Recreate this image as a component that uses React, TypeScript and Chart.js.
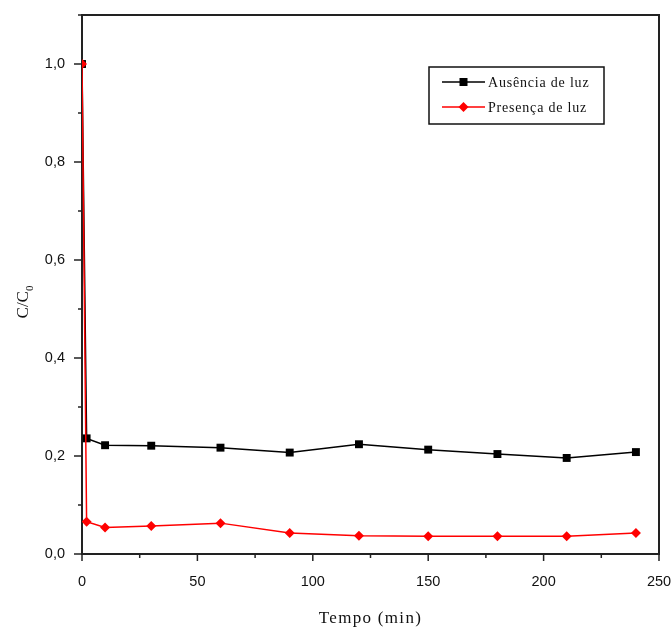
import React, { useEffect, useRef } from "react";
import { Chart, registerables } from "chart.js";

Chart.register(...registerables);

// ---- data ----
const tempoAusencia = [0, 2, 10, 30, 60, 90, 120, 150, 180, 210, 240];
const ausencia = [1.0, 0.236, 0.222, 0.221, 0.217, 0.207, 0.224, 0.213, 0.204, 0.196, 0.208];
const tempoPresenca = [0, 2, 10, 30, 60, 90, 120, 150, 180, 210, 240];
const presenca = [1.0, 0.066, 0.054, 0.057, 0.063, 0.043, 0.037, 0.036, 0.036, 0.036, 0.043];
const seriesNames = ["Ausência de luz", "Presença de luz"];
const xMajorTicks = [0, 50, 100, 150, 200, 250];
const yMajorTicks = [0, 0.2, 0.4, 0.6, 0.8, 1.0];
const xTitle = "Tempo (min)";
const yTitleMain = "C/C";
const yTitleSub = "0";

const AXIS_COLOR = "#222";
const SERIF = "'Liberation Serif', 'Times New Roman', serif";
const SANS = "'Liberation Sans', Arial, sans-serif";

const isMajor = (v: number, list: number[]) => list.some((m) => Math.abs(m - v) < 1e-6);

const framePlugin = {
  id: "frameTicks",
  beforeDatasetsDraw(chart: any) {
    const { ctx, chartArea } = chart;
    const xs = chart.scales.x;
    const ys = chart.scales.y;
    ctx.save();
    ctx.strokeStyle = AXIS_COLOR;
    ctx.lineWidth = 2;
    ctx.strokeRect(chartArea.left, chartArea.top, chartArea.right - chartArea.left, chartArea.bottom - chartArea.top);
    ctx.lineWidth = 1.5;
    for (let v = 0; v <= 250 + 1e-6; v += 25) {
      const px = xs.getPixelForValue(v);
      const len = isMajor(v, xMajorTicks) ? 7 : 4;
      ctx.beginPath();
      ctx.moveTo(px, chartArea.bottom);
      ctx.lineTo(px, chartArea.bottom + len);
      ctx.stroke();
    }
    for (let i = 0; i <= 11; i++) {
      const v = i / 10;
      const py = ys.getPixelForValue(v);
      const len = isMajor(v, yMajorTicks) ? 8 : 4;
      ctx.beginPath();
      ctx.moveTo(chartArea.left, py);
      ctx.lineTo(chartArea.left - len, py);
      ctx.stroke();
    }
    ctx.restore();
  },
  afterDraw(chart: any) {
    const { ctx, chartArea } = chart;
    ctx.save();
    // x title
    ctx.fillStyle = "#111";
    ctx.font = `17px ${SERIF}`;
    (ctx as any).letterSpacing = "1.3px";
    ctx.textAlign = "center";
    ctx.textBaseline = "middle";
    ctx.fillText(xTitle, (chartArea.left + chartArea.right) / 2, 619);
    // y title
    (ctx as any).letterSpacing = "0px";
    ctx.translate(24, 302);
    ctx.rotate(-Math.PI / 2);
    ctx.font = `17px ${SERIF}`;
    const w1 = ctx.measureText(yTitleMain).width;
    ctx.font = `11px ${SERIF}`;
    const w2 = ctx.measureText(yTitleSub).width;
    const start = -(w1 + w2) / 2;
    ctx.textAlign = "left";
    ctx.font = `17px ${SERIF}`;
    ctx.fillText(yTitleMain, start, 0);
    ctx.font = `11px ${SERIF}`;
    ctx.fillText(yTitleSub, start + w1, 6);
    ctx.restore();

    // legend
    ctx.save();
    const bx = 429, by = 67, bw = 175, bh = 57;
    ctx.fillStyle = "#fff";
    ctx.fillRect(bx, by, bw, bh);
    ctx.strokeStyle = "#111";
    ctx.lineWidth = 1.5;
    ctx.strokeRect(bx, by, bw, bh);
    const rows = [
      { y: 82, color: "#000", style: "rect", name: seriesNames[0] },
      { y: 107, color: "#ff0000", style: "rectRot", name: seriesNames[1] },
    ];
    rows.forEach((r) => {
      ctx.strokeStyle = r.color;
      ctx.lineWidth = 1.5;
      ctx.beginPath();
      ctx.moveTo(442, r.y);
      ctx.lineTo(485, r.y);
      ctx.stroke();
      ctx.fillStyle = r.color;
      ctx.beginPath();
      if (r.style === "rect") {
        ctx.rect(463.5 - 4, r.y - 4, 8, 8);
      } else {
        ctx.moveTo(463.5, r.y - 5);
        ctx.lineTo(468.5, r.y);
        ctx.lineTo(463.5, r.y + 5);
        ctx.lineTo(458.5, r.y);
        ctx.closePath();
      }
      ctx.fill();
      ctx.fillStyle = "#111";
      ctx.font = `14px ${SERIF}`;
      (ctx as any).letterSpacing = "0.8px";
      ctx.textAlign = "left";
      ctx.textBaseline = "middle";
      ctx.fillText(r.name, 488, r.y + 1);
    });
    ctx.restore();
  },
};

export default function App() {
  const ref = useRef<HTMLCanvasElement | null>(null);
  useEffect(() => {
    if (!ref.current) return;
    const chart = new Chart(ref.current, {
      type: "line",
      data: {
        datasets: [
          {
            label: seriesNames[0],
            data: tempoAusencia.map((t, i) => ({ x: t, y: ausencia[i] })),
            borderColor: "#000",
            backgroundColor: "#000",
            borderWidth: 1.5,
            pointStyle: "rect",
            pointRadius: 5.6,
            pointBorderWidth: 0,
            order: 2,
            tension: 0,
          },
          {
            label: seriesNames[1],
            data: tempoPresenca.map((t, i) => ({ x: t, y: presenca[i] })),
            borderColor: "#ff0000",
            backgroundColor: "#ff0000",
            borderWidth: 1.5,
            pointStyle: "rectRot",
            pointRadius: 5,
            pointBorderWidth: 0,
            order: 1,
            tension: 0,
          },
        ],
      },
      options: {
        responsive: false,
        animation: false,
        layout: { padding: { top: 15, right: 12, left: 0, bottom: 0 } },
        plugins: { legend: { display: false }, tooltip: { enabled: false } },
        scales: {
          x: {
            type: "linear",
            min: 0,
            max: 250,
            afterFit: (s: any) => {
              s.height = 76;
              s.paddingLeft = 0;
              s.paddingRight = 0;
            },
            grid: { display: false, drawTicks: false, tickLength: 0 },
            border: { display: false },
            ticks: {
              stepSize: 50,
              padding: 19,
              color: "#111",
              font: { family: SANS, size: 14.5 },
              maxRotation: 0,
              callback: (v: any) => (isMajor(Number(v), xMajorTicks) ? String(v) : ""),
            },
          },
          y: {
            type: "linear",
            min: 0,
            max: 1.1,
            afterFit: (s: any) => {
              s.width = 82;
              s.paddingTop = 0;
              s.paddingBottom = 0;
            },
            grid: { display: false, drawTicks: false, tickLength: 0 },
            border: { display: false },
            ticks: {
              stepSize: 0.2,
              padding: 17,
              color: "#111",
              font: { family: SANS, size: 14.5 },
              callback: (v: any) =>
                isMajor(Number(v), yMajorTicks) ? Number(v).toFixed(1).replace(".", ",") : "",
            },
          },
        },
      },
      plugins: [framePlugin],
    });
    return () => chart.destroy();
  }, []);
  return (
    <div style={{ position: "fixed", left: 0, top: 0, width: 671, height: 630, background: "#fff" }}>
      <canvas ref={ref} width={671} height={630} style={{ display: "block" }} />
    </div>
  );
}
